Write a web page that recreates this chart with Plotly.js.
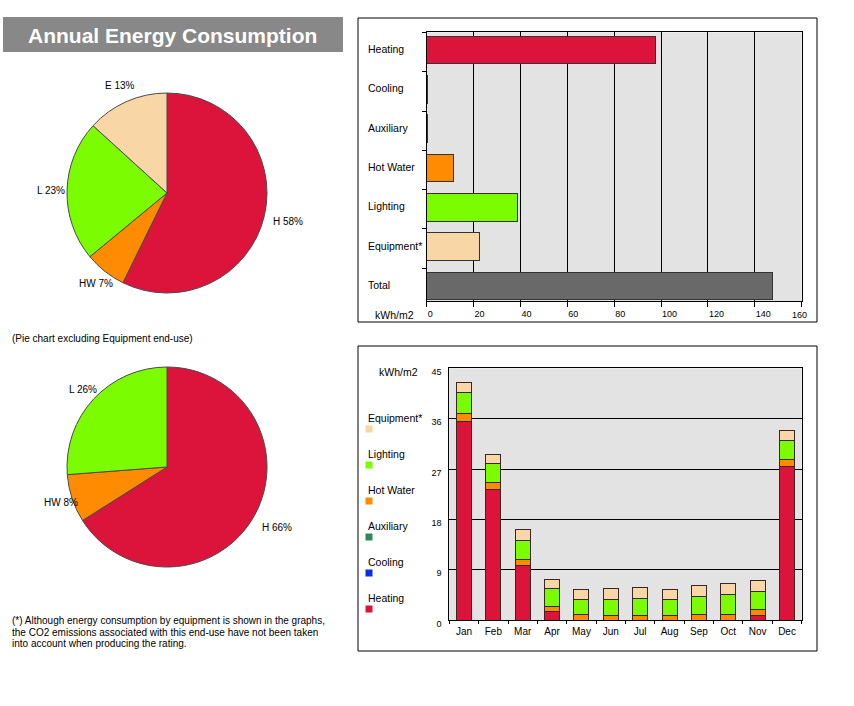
<!DOCTYPE html>
<html>
<head>
<meta charset="utf-8">
<script src="https://cdn.plot.ly/plotly-3.0.1.min.js"></script>
<style>
  html, body { margin: 0; padding: 0; background: #ffffff; }
  #chart { width: 854px; height: 706px; }
</style>
</head>
<body>
<div id="chart"></div>
<script>
// ---------- data ----------
const endUses = ['Heating', 'Cooling', 'Auxiliary', 'Hot Water', 'Lighting', 'Equipment*', 'Total'];
const annualValues = [97.7, 0.2, 0.2, 11.5, 38.8, 22.6, 147.6];
const annualTicks = [0, 20, 40, 60, 80, 100, 120, 140, 160];

const pie1Labels = ['H', 'HW', 'L', 'E'];
const pie1Text = ['H 58%', 'HW 7%', 'L 23%', 'E 13%'];
const pie2Labels = ['H', 'HW', 'L'];
const pie2Text = ['H 66%', 'HW 8%', 'L 26%'];

const months = ['Jan', 'Feb', 'Mar', 'Apr', 'May', 'Jun', 'Jul', 'Aug', 'Sep', 'Oct', 'Nov', 'Dec'];
const heating   = [35.5, 23.3, 9.7, 1.5, 0, 0, 0, 0, 0, 0, 0.8, 27.5];
const cooling   = [0, 0, 0, 0, 0, 0, 0, 0, 0, 0, 0, 0];
const auxiliary = [0.03, 0.03, 0.03, 0.03, 0.03, 0.03, 0.03, 0.03, 0.03, 0.03, 0.03, 0.03];
const hotWater  = [1.45, 1.3, 1.2, 0.95, 1.0, 0.85, 0.85, 0.85, 1.05, 1.05, 1.15, 1.2];
const lighting  = [3.75, 3.4, 3.4, 3.25, 2.75, 2.9, 3.05, 2.9, 3.25, 3.55, 3.25, 3.4];
const equipment = [1.8, 1.6, 1.8, 1.6, 1.75, 1.95, 2.0, 1.75, 1.8, 2.0, 1.9, 1.8];
const monthlyTicks = [0, 9, 18, 27, 36, 45];

// ---------- styles ----------
const C = {
  heating: '#DC143C', cooling: '#0A2BE8', auxiliary: '#2E8B57',
  hotWater: '#FF8C00', lighting: '#7CFC00', equipment: '#F8D6A6', total: '#696969'
};
const annualColors = [C.heating, C.cooling, C.auxiliary, C.hotWater, C.lighting, C.equipment, C.total];
const FONT = 'Liberation Sans, Arial, sans-serif';
const W = 854, H = 706;
const fx = v => v / W;
const fy = v => 1 - v / H;

const pie1Values = [annualValues[0], annualValues[3], annualValues[4], annualValues[5]];
const pie2Values = [annualValues[0], annualValues[3], annualValues[4]];
const pieGeom1 = { cx: 167, cy: 193, r: 100, labelR: [124, 115, 116, 117] };
const pieGeom2 = { cx: 167, cy: 467, r: 100, labelR: [126, 112, 114] };

const traces = [];
function addPie(values, labels, colors, g) {
  traces.push({
    type: 'pie', values: values, labels: labels,
    textinfo: 'none', sort: false, direction: 'clockwise', rotation: 0,
    marker: { colors: colors, line: { color: '#4a4a4a', width: 1 } },
    domain: { x: [fx(g.cx - g.r), fx(g.cx + g.r)], y: [fy(g.cy + g.r), fy(g.cy - g.r)] },
    hoverinfo: 'none', showlegend: false
  });
}
addPie(pie1Values, pie1Labels, [C.heating, C.hotWater, C.lighting, C.equipment], pieGeom1);
addPie(pie2Values, pie2Labels, [C.heating, C.hotWater, C.lighting], pieGeom2);

traces.push({
  type: 'bar', orientation: 'h', x: annualValues, y: endUses, xaxis: 'x', yaxis: 'y',
  marker: { color: annualColors, line: { color: '#333333', width: 1 } },
  width: 0.7, offset: -0.4, hoverinfo: 'none', showlegend: false
});
const stackSeries = [
  ['Heating', heating, C.heating],
  ['Cooling', cooling, C.cooling],
  ['Auxiliary', auxiliary, C.auxiliary],
  ['Hot Water', hotWater, C.hotWater],
  ['Lighting', lighting, C.lighting],
  ['Equipment*', equipment, C.equipment]
];
stackSeries.forEach(([name, vals, col]) => {
  traces.push({
    type: 'bar', name: name, x: months, y: vals, xaxis: 'x2', yaxis: 'y2',
    marker: { color: col, line: { color: '#3a2626', width: 1 } },
    width: 0.51, hoverinfo: 'none', showlegend: false
  });
});

// ---------- annotations & shapes ----------
const annotations = [];
const shapes = [];
const txt = (x, y, text, opts = {}) => annotations.push(Object.assign({
  xref: 'paper', yref: 'paper', x: fx(x), y: fy(y), text: text, showarrow: false,
  xanchor: 'left', yanchor: 'middle', font: { family: FONT, size: 10.5, color: '#000' }
}, opts));

// pie labels, placed along each slice's mid-angle
function pieLabelAnn(values, texts, g) {
  const total = values.reduce((a, b) => a + b, 0);
  let cum = 0;
  values.forEach((v, i) => {
    const mid = (cum + v / 2) / total * 2 * Math.PI;
    cum += v;
    const R = g.labelR[i];
    txt(g.cx + R * Math.sin(mid), g.cy - R * Math.cos(mid), texts[i],
      { xanchor: 'center', font: { family: FONT, size: 10, color: '#000' } });
  });
}
pieLabelAnn(pie1Values, pie1Text, pieGeom1);
pieLabelAnn(pie2Values, pie2Text, pieGeom2);

// title block
shapes.push({ type: 'rect', xref: 'paper', yref: 'paper', x0: fx(3), x1: fx(343), y0: fy(52), y1: fy(17),
  fillcolor: '#888888', line: { width: 0 }, layer: 'below' });
txt(172, 35, '<b>Annual Energy Consumption</b>', { xanchor: 'center', font: { family: FONT, size: 21, color: '#ffffff' } });

txt(10, 338, '(Pie chart excluding Equipment end-use)', { font: { family: FONT, size: 10, color: '#000' } });
txt(10, 620.5, '(*) Although energy consumption by equipment is shown in the graphs,', { font: { family: FONT, size: 10, color: '#000' } });
txt(10, 632, 'the CO2 emissions associated with this end-use have not been taken', { font: { family: FONT, size: 10, color: '#000' } });
txt(10, 643.5, 'into account when producing the rating.', { font: { family: FONT, size: 10, color: '#000' } });

// panel frames
shapes.push({ type: 'rect', xref: 'paper', yref: 'paper', x0: fx(358), x1: fx(817), y0: fy(322), y1: fy(18), line: { color: '#000', width: 1 } });
shapes.push({ type: 'rect', xref: 'paper', yref: 'paper', x0: fx(358), x1: fx(817), y0: fy(651), y1: fy(346), line: { color: '#000', width: 1 } });

// top chart category labels (left aligned)
endUses.forEach(c => annotations.push({
  xref: 'paper', yref: 'y', x: fx(366), y: c, text: c, showarrow: false,
  xanchor: 'left', yanchor: 'middle', yshift: 3, font: { family: FONT, size: 10.5, color: '#000' }
}));
txt(373, 315, 'kWh/m2');
// last x tick label sits inside the plot edge
const lastTick = annualTicks[annualTicks.length - 1];
annotations.push({
  xref: 'x', yref: 'paper', x: lastTick, y: fy(315), text: String(lastTick), showarrow: false,
  xanchor: 'center', yanchor: 'middle', xshift: -2, font: { family: FONT, size: 9, color: '#000' }
});

// bottom chart
txt(377, 372, 'kWh/m2');
const legendOrder = stackSeries.slice().reverse();
legendOrder.forEach(([name, vals, col], i) => {
  const yc = 418 + i * 36;
  txt(366, yc, name);
  shapes.push({ type: 'rect', xref: 'paper', yref: 'paper', x0: fx(365.5), x1: fx(372.5), y0: fy(432.5 + i * 36), y1: fy(425.5 + i * 36),
    fillcolor: col, line: { width: 0 } });
});

const layout = {
  width: W, height: H,
  margin: { l: 0, r: 0, t: 0, b: 0, pad: 0 },
  paper_bgcolor: '#ffffff',
  font: { family: FONT, size: 10, color: '#000' },
  barmode: 'stack',
  showlegend: false,
  xaxis: {
    domain: [fx(426.7), fx(801.7)], anchor: 'y', range: [0, 160], tickvals: annualTicks,
    ticktext: annualTicks.map((t, i) => i === annualTicks.length - 1 ? '' : String(t)),
    showgrid: true, gridcolor: '#000', gridwidth: 1, zeroline: false,
    showline: true, linecolor: '#000', linewidth: 1, mirror: true,
    ticks: 'outside', ticklen: 5, tickcolor: '#000', ticklabelstandoff: 4,
    ticklabelposition: 'outside right', tickfont: { family: FONT, size: 9, color: '#000' }
  },
  yaxis: {
    domain: [fy(301), fy(32.4)], anchor: 'x', type: 'category', categoryarray: endUses, categoryorder: 'array',
    range: [6.335, -0.5], showticklabels: false, showgrid: false, zeroline: false,
    showline: true, linecolor: '#000', linewidth: 1, mirror: true,
    ticks: 'outside', tickson: 'boundaries', ticklen: 4, tickcolor: '#000'
  },
  xaxis2: {
    domain: [fx(449.3), fx(801.7)], anchor: 'y2', type: 'category', categoryarray: months, categoryorder: 'array',
    range: [-0.5, 11.5], showgrid: false, zeroline: false,
    showline: true, linecolor: '#000', linewidth: 1, mirror: true,
    ticks: 'outside', tickson: 'boundaries', ticklen: 3, tickcolor: '#000', ticklabelstandoff: 2,
    tickfont: { family: FONT, size: 10, color: '#000' }
  },
  yaxis2: {
    domain: [fy(620.3), fy(368.3)], anchor: 'x2', range: [0, 45], tickvals: monthlyTicks,
    showgrid: true, gridcolor: '#000', gridwidth: 1, zeroline: false,
    showline: true, linecolor: '#000', linewidth: 1, mirror: true,
    ticks: '', ticklabelposition: 'outside bottom', ticklabelstandoff: 5, ticklabelshift: -3,
    tickfont: { family: FONT, size: 9, color: '#000' }
  },
  plot_bgcolor: '#E3E3E3',
  annotations: annotations,
  shapes: shapes
};

Plotly.newPlot('chart', traces, layout, { staticPlot: true, displayModeBar: false });
</script>
</body>
</html>
